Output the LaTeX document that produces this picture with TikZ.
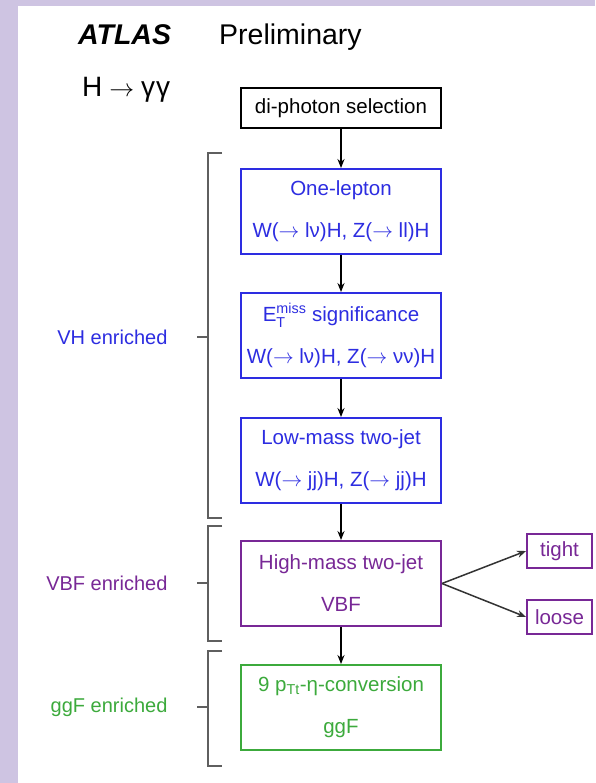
\documentclass[tikz,border=0pt]{standalone}
\usepackage{amsmath}
\usepackage{fontspec}
\setmainfont{Liberation Sans}
\usetikzlibrary{arrows.meta,positioning}

\definecolor{vhblue}{RGB}{45,45,225}
\definecolor{vbfpurple}{RGB}{120,40,150}
\definecolor{ggfgreen}{RGB}{60,170,60}
\definecolor{brgray}{RGB}{95,95,95}
\definecolor{lavender}{RGB}{206,196,226}

\begin{document}
\begin{tikzpicture}[x=1pt, y=-1pt,
    cat/.style={draw, line width=1.9pt, minimum width=200pt, minimum height=85pt, inner sep=0pt, align=center, font=\fontsize{20.5}{42}\selectfont},
    sub/.style={draw, line width=1.9pt, minimum width=65pt, minimum height=34pt, inner sep=0pt, font=\fontsize{20.5}{24}\selectfont},
    lbl/.style={anchor=east, font=\fontsize{20}{24}\selectfont},
    arr/.style={-{Stealth[length=9pt, width=7pt]}, line width=1.5pt},
    brk/.style={brgray, line width=1.7pt}
]
\useasboundingbox (0,0) rectangle (595,783);
\fill[lavender] (0,0) rectangle (595,783);
\fill[white] (18,6) rectangle (595,783);

% header
\node[anchor=base west, inner sep=0pt, font=\fontsize{28.5}{32}\selectfont\bfseries\itshape] (atlas) at (78,45) {ATLAS};
\node[anchor=base west, inner sep=0pt, font=\fontsize{28.5}{32}\selectfont] (prelim) at (219,45) {Preliminary};
\node[anchor=base west, inner sep=0pt, font=\fontsize{28}{32}\selectfont] (chan) at (82,97) {H$\;\rightarrow\;$γ\kern1ptγ};

% categories
\node[draw, line width=1.9pt, minimum width=200pt, minimum height=40pt, inner sep=0pt, font=\fontsize{20.5}{24}\selectfont] (dipho) at (341,108) {di-photon selection};
\node[cat, vhblue] (onelep) at (341,211.5) {One-lepton\\W($\rightarrow$ lν)H, Z($\rightarrow$ ll)H};
\node[cat, vhblue] (met) at (341,335.5) {E$^{\text{miss}}_{\text{T}}$ significance\\W($\rightarrow$ lν)H, Z($\rightarrow$ νν)H};
\node[cat, vhblue] (lowmass) at (341,460.5) {Low-mass two-jet\\W($\rightarrow$ jj)H, Z($\rightarrow$ jj)H};
\node[cat, vbfpurple] (vbf) at (341,583.5) {High-mass two-jet\\VBF};
\node[cat, ggfgreen] (ggf) at (341,707.5) {9 p\textsubscript{Tt}-η-conversion\\ggF};
\node[sub, vbfpurple] (tight) at (559.5,551) {tight};
\node[sub, vbfpurple] (loose) at (559.5,617) {loose};

\draw[arr] (dipho) -- (onelep);
\draw[arr] (onelep) -- (met);
\draw[arr] (met) -- (lowmass);
\draw[arr] (lowmass) -- (vbf);
\draw[arr] (vbf) -- (ggf);
\draw[arr, black!80] (vbf.east) -- (tight.west);
\draw[arr, black!80] (vbf.east) -- (loose.west);

% enriched groups
\node[lbl, vhblue] (vhlbl) at (171,337) {VH enriched};
\node[lbl, vbfpurple] (vbflbl) at (171,583) {VBF enriched};
\node[lbl, ggfgreen] (ggflbl) at (171,707) {ggF enriched};

\draw[brk] (222,153) -- (208,153) -- (208,518) -- (222,518);
\draw[brk] (197,337) -- (208,337);
\draw[brk] (222,526) -- (208,526) -- (208,641) -- (222,641);
\draw[brk] (197,583) -- (208,583);
\draw[brk] (222,651) -- (208,651) -- (208,766) -- (222,766);
\draw[brk] (197,707) -- (208,707);
\end{tikzpicture}
\end{document}
